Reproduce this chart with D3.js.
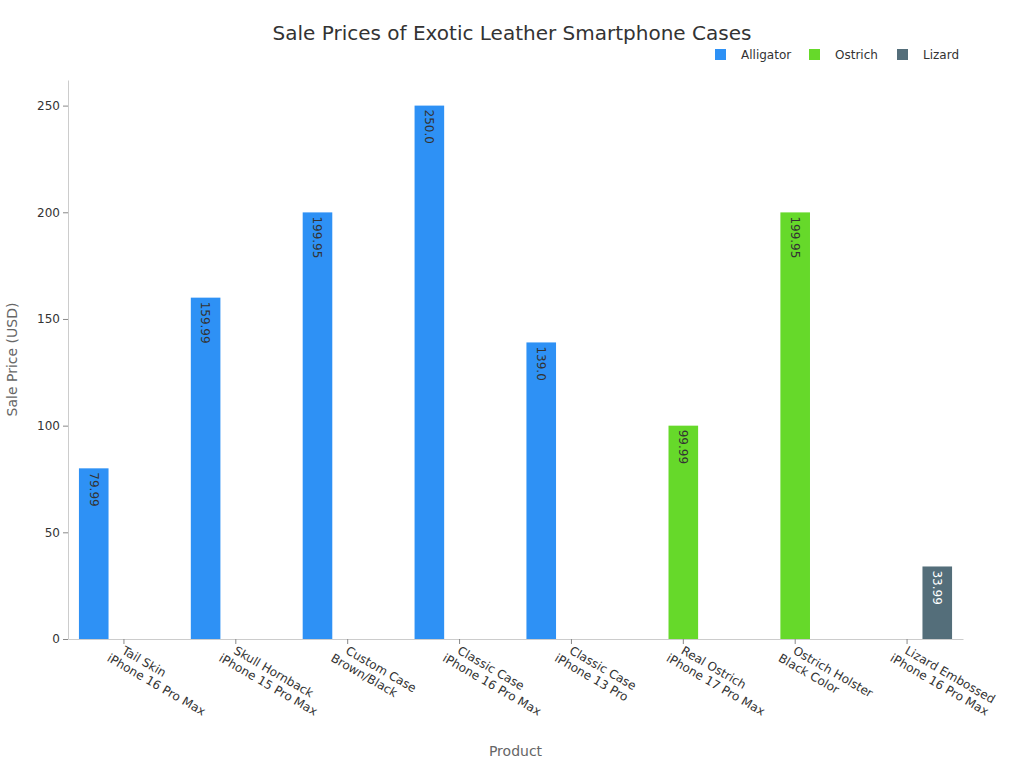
<!DOCTYPE html>
<head>
    <meta charset="utf-8">
    <title>Sale Prices of Exotic Leather Smartphone Cases</title>
    <style>
        body { margin: 0; background: #fff; }
        text { font-family: "DejaVu Sans", sans-serif; }
    </style>
    <script src="https://cdn.jsdelivr.net/npm/d3@7"></script>
</head>
<body>
<script>
    var products = ["Tail Skin|iPhone 16 Pro Max", "Skull Hornback|iPhone 15 Pro Max", "Custom Case|Brown/Black",
        "Classic Case|iPhone 16 Pro Max", "Classic Case|iPhone 13 Pro", "Real Ostrich|iPhone 17 Pro Max",
        "Ostrich Holster|Black Color", "Lizard Embossed|iPhone 16 Pro Max"];
    var series = ["Alligator", "Ostrich", "Lizard"];
    var colors = ["#2e91f5", "#66d92a", "#546e7a"];
    // one value per product, in the series it belongs to
    var alligator = [79.99, 159.99, 199.95, 250.0, 139.0, null, null, null];
    var ostrich = [null, null, null, null, null, 99.99, 199.95, null];
    var lizard = [null, null, null, null, null, null, null, 33.99];
    var labels = ["79.99", "159.99", "199.95", "250.0", "139.0", "99.99", "199.95", "33.99"];
    var yTicks = [0, 50, 100, 150, 200, 250];

    var margin = { top: 80, right: 61, bottom: 129, left: 68 },
        width = 1024 - margin.left - margin.right,
        height = 768 - margin.top - margin.bottom;

    var svg = d3.select("body").append("svg").attr("width", 1024).attr("height", 768);
    var plot = svg.append("g").attr("transform", "translate(" + margin.left + "," + margin.top + ")");

    var x = d3.scaleBand().domain(products).range([0, width]);
    var xs = d3.scaleBand().domain(series).range([-45, 45]).paddingInner(0.02);
    var y = d3.scaleLinear().domain([0, 262]).range([height, 0]);

    var yAxis = plot.append("g").call(d3.axisLeft(y).tickValues(yTicks).tickSize(5).tickSizeOuter(0));
    yAxis.select(".domain").attr("stroke", "#ccc");
    yAxis.selectAll(".tick line").attr("stroke", "#888");
    yAxis.selectAll("text").attr("font-size", 12).attr("fill", "#333");

    var xAxis = plot.append("g").attr("transform", "translate(0," + height + ")")
        .call(d3.axisBottom(x).tickSize(5).tickSizeOuter(0).tickFormat(""));
    xAxis.select(".domain").attr("stroke", "#ccc");
    xAxis.selectAll(".tick line").attr("stroke", "#888");
    xAxis.selectAll(".tick").append("text")
        .attr("transform", "translate(-3,14) rotate(30)")
        .attr("fill", "#333").attr("font-size", 12).attr("text-anchor", "start")
        .each(function (d) {
            var parts = d.split("|");
            var t = d3.select(this);
            t.append("tspan").attr("x", 0).attr("dy", 0).text(parts[0]);
            t.append("tspan").attr("x", -9).attr("dy", "1.15em").text(parts[1]);
        });

    var data = [];
    [alligator, ostrich, lizard].forEach(function (arr, si) {
        arr.forEach(function (v, i) {
            if (v != null) data.push({ p: products[i], s: series[si], v: v, c: colors[si], label: labels[i] });
        });
    });

    plot.selectAll("rect.bar").data(data).enter().append("rect")
        .attr("x", d => x(d.p) + x.bandwidth() / 2 + xs(d.s))
        .attr("width", xs.bandwidth())
        .attr("y", d => y(d.v))
        .attr("height", d => height - y(d.v))
        .attr("fill", d => d.c);

    plot.selectAll("text.lab").data(data).enter().append("text")
        .attr("transform", d => "translate(" + (x(d.p) + x.bandwidth() / 2 + xs(d.s) + xs.bandwidth() / 2) + "," + (y(d.v) + 4) + ") rotate(90)")
        .attr("dy", "0.35em").attr("font-size", 12)
        .attr("fill", d => d.s === "Lizard" ? "#fff" : "#333")
        .text(d => d.label);

    svg.append("text").attr("x", 512).attr("y", 40).attr("text-anchor", "middle")
        .attr("font-size", 20).attr("fill", "#333").text("Sale Prices of Exotic Leather Smartphone Cases");
    svg.append("text").attr("transform", "translate(17," + (margin.top + height / 2) + ") rotate(-90)")
        .attr("text-anchor", "middle").attr("font-size", 14).attr("fill", "#666").text("Sale Price (USD)");
    svg.append("text").attr("x", margin.left + width / 2).attr("y", 756).attr("text-anchor", "middle")
        .attr("font-size", 14).attr("fill", "#666").text("Product");

    var legX = [715, 809, 897];
    var leg = svg.selectAll("g.leg").data(series).enter().append("g")
        .attr("transform", (d, i) => "translate(" + legX[i] + ",49)");
    leg.append("rect").attr("width", 11).attr("height", 11).attr("fill", (d, i) => colors[i]);
    leg.append("text").attr("x", 26).attr("y", 10).attr("font-size", 12).attr("fill", "#333").text(d => d);
</script>
</body>
